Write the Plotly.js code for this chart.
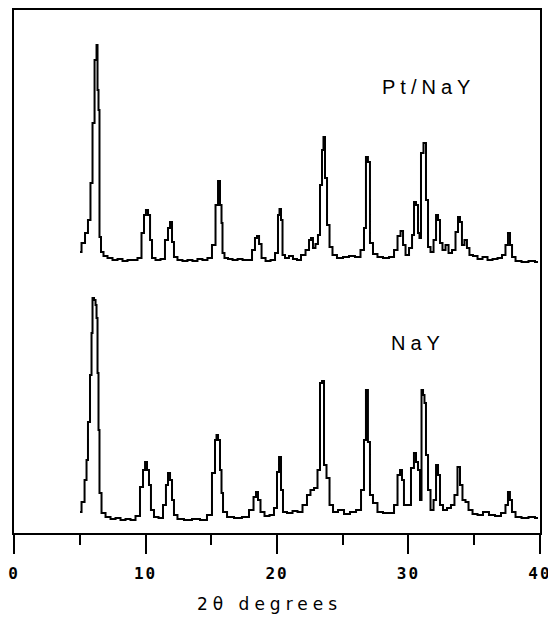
<!DOCTYPE html>
<html>
<head>
<meta charset="utf-8">
<script src="https://cdn.plot.ly/plotly-3.0.1.min.js"></script>
<style>
  html, body { margin: 0; padding: 0; background: #fff; }
  #chart { width: 548px; height: 619px; }
  .annotation-text { letter-spacing: 5px; }
  .xtick text { letter-spacing: 2px; }
</style>
</head>
<body>
<div id="chart"></div>
<script>
// 2-theta positions (degrees) and intensities (arbitrary units, Pt/NaY already shown offset above NaY)
const ptTheta = [5.02,5.25,5.55,5.70,5.93,6.01,6.24,6.31,6.39,6.46,6.54,6.69,6.92,7.30,7.68,8.06,8.44,8.82,9.20,9.58,
  9.81,9.96,10.11,10.27,10.42,10.57,10.95,11.33,11.63,11.79,11.94,12.09,12.24,12.62,13.00,13.38,13.76,14.14,14.52,14.90,
  15.21,15.44,15.59,15.74,15.82,15.89,16.12,16.43,16.81,17.19,17.57,17.95,18.25,18.40,18.56,18.71,18.94,19.32,19.70,20.00,
  20.15,20.23,20.38,20.46,20.76,21.06,21.37,21.67,21.98,22.36,22.51,22.66,22.81,23.04,23.19,23.35,23.50,23.57,23.73,23.88,
  24.11,24.33,24.79,25.25,25.70,26.16,26.54,26.69,26.84,26.99,27.15,27.45,27.83,28.29,28.75,29.05,29.28,29.51,29.66,29.89,
  30.19,30.35,30.49,30.65,30.80,30.87,31.03,31.25,31.41,31.56,31.79,32.02,32.17,32.32,32.47,32.70,32.93,33.16,33.46,33.69,
  33.84,33.99,34.14,34.37,34.52,34.75,35.06,35.44,35.82,36.20,36.58,36.96,37.26,37.49,37.64,37.80,37.95,38.33,38.86,39.39,39.85];
const ptIntensity = [281,290,300,313,350,410,473,488,443,423,296,281,277,275,273,274,272,273,273,275,
  300,318,323,318,293,275,273,274,293,305,311,291,276,273,272,273,272,274,273,275,
  288,328,352,328,310,280,275,274,273,274,273,273,283,295,297,289,275,272,273,280,
  318,324,313,278,275,277,274,273,278,283,293,295,285,289,298,348,383,396,355,308,
  286,278,275,276,277,276,283,305,376,371,290,279,276,275,276,283,297,302,288,278,
  285,298,331,328,300,295,380,390,333,286,281,293,318,313,290,283,288,280,283,301,
  316,311,288,293,285,278,277,274,276,273,274,275,278,288,300,288,276,272,271,272,271];

const nayTheta = [5.02,5.25,5.48,5.55,5.70,5.86,5.93,6.01,6.16,6.24,6.31,6.39,6.46,6.54,6.77,7.15,7.53,7.91,8.29,8.67,
  9.05,9.43,9.73,9.89,10.04,10.19,10.34,10.49,10.80,11.18,11.48,11.63,11.79,11.94,12.09,12.24,12.62,13.23,13.84,14.45,
  14.90,15.21,15.36,15.44,15.59,15.74,15.82,15.97,16.43,17.03,17.64,18.10,18.33,18.48,18.63,18.86,19.24,19.62,19.92,20.08,
  20.23,20.38,20.53,20.99,21.37,21.75,22.13,22.43,22.66,22.97,23.19,23.35,23.50,23.65,23.88,24.11,24.41,24.87,25.32,25.78,
  26.24,26.54,26.69,26.84,26.99,27.15,27.45,27.83,28.29,28.75,29.05,29.28,29.43,29.58,29.73,30.04,30.34,30.49,30.65,30.80,
  30.95,31.03,31.18,31.25,31.41,31.56,31.79,32.02,32.17,32.32,32.47,32.78,33.08,33.38,33.61,33.84,33.99,34.22,34.45,34.68,
  35.06,35.44,35.89,36.35,36.81,37.26,37.49,37.64,37.79,37.95,38.33,38.86,39.39,39.85];
const nayIntensity = [21,31,53,73,111,158,200,235,233,228,215,160,103,40,20,16,14,15,13,14,
  13,17,46,63,71,63,48,23,16,15,28,48,60,53,33,18,14,13,14,13,
  18,60,93,98,93,63,40,21,16,15,16,23,36,41,33,21,17,18,25,61,
  76,43,21,20,22,21,28,38,43,45,63,150,152,68,55,28,21,23,19,21,
  23,43,93,143,91,38,30,21,20,20,28,58,63,53,28,28,65,80,71,63,
  33,143,138,130,78,43,23,33,68,58,28,23,25,28,38,66,48,33,31,23,
  19,18,21,18,17,20,28,41,33,21,16,15,16,15];

const seriesNames = ["Pt/NaY", "NaY"];
const xTickVals = [0, 10, 20, 30, 40];
const xTickText = ["0", "10", "20", "30", "40"];
const xTitle = "2θ degrees";

const lineStyle = {color: "#000", width: 2, shape: "hvh"};
const traces = [
  {x: ptTheta, y: ptIntensity, type: "scatter", mode: "lines", name: seriesNames[0], line: lineStyle, hoverinfo: "skip"},
  {x: nayTheta, y: nayIntensity, type: "scatter", mode: "lines", name: seriesNames[1], line: lineStyle, hoverinfo: "skip"}
];

const layout = {
  width: 548, height: 619,
  margin: {l: 14, r: 8, t: 10, b: 86, pad: 0},
  paper_bgcolor: "#fff", plot_bgcolor: "#fff",
  showlegend: false,
  xaxis: {
    range: [-0.001, 40.001], showgrid: false, zeroline: false,
    showline: true, linecolor: "#000", linewidth: 2, mirror: true,
    ticks: "outside", ticklen: 19, tickwidth: 2, tickcolor: "#000",
    tickvals: xTickVals, ticktext: xTickText,
    ticklabelstandoff: 6, ticklabeloverflow: "allow",
    tickfont: {family: "DejaVu Sans Mono", size: 16, color: "#000", weight: "bold"},
    minor: {dtick: 5, ticks: "outside", ticklen: 10, tickwidth: 2, tickcolor: "#000", showgrid: false}
  },
  yaxis: {
    range: [0, 523], showgrid: false, zeroline: false,
    showline: true, linecolor: "#000", linewidth: 2, mirror: true,
    ticks: "", showticklabels: false
  },
  annotations: [
    {x: 31.5, y: 446, xref: "x", yref: "y", text: seriesNames[0], showarrow: false,
     font: {family: "Liberation Sans", size: 20, color: "#000"}},
    {x: 30.75, y: 190, xref: "x", yref: "y", text: seriesNames[1], showarrow: false,
     font: {family: "Liberation Sans", size: 20, color: "#000"}},
    {x: 19.4, y: -0.136, xref: "x", yref: "paper", yanchor: "middle", text: xTitle, showarrow: false,
     font: {family: "DejaVu Sans", size: 17, color: "#000"}}
  ]
};

Plotly.newPlot("chart", traces, layout, {staticPlot: true, displayModeBar: false});
</script>
</body>
</html>
